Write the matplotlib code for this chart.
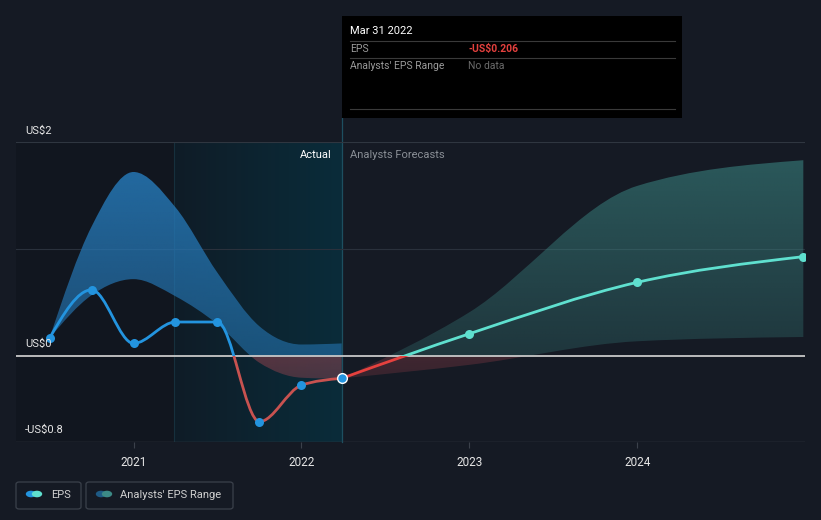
import numpy as np
import matplotlib.pyplot as plt
from matplotlib.path import Path
from matplotlib.patches import PathPatch, Rectangle, FancyBboxPatch, Circle
from matplotlib.lines import Line2D

plt.rcParams['font.family'] = ['Roboto', 'DejaVu Sans']

# data (years as decimals)
past_x = [2020.5, 2020.75, 2021.0, 2021.25, 2021.5, 2021.75, 2022.0, 2022.24]
past_eps = [0.17, 0.62, 0.12, 0.32, 0.32, -0.61, -0.27, -0.206]
past_hi = [0.17, 1.21, 1.72, 1.39, 0.78, 0.28, 0.11, 0.12]
past_lo = [0.17, 0.57, 0.72, 0.56, 0.30, -0.06, -0.20, -0.21]

fc_x = [2022.24, 2023.0, 2024.0, 2024.99]
fc_eps = [-0.206, 0.21, 0.69, 0.93]
fc_hi = [-0.206, 0.41, 1.59, 1.83]
fc_lo = [-0.206, -0.08, 0.14, 0.18]

years = [2021, 2022, 2023, 2024]
y_labels = {2.0: "US$2", 0.0: "US$0", -0.8: "-US$0.8"}

BG = '#151a24'
BLUE = '#2394df'
TEAL = '#5fe0cf'
RED_PAST = '#c85250'
RED_FC = '#e5413e'
W, H = 821, 520


def fx(px):
    return px / W


def fy(py):
    return 1 - py / H


def tangents(xs, ys):
    xs, ys = np.asarray(xs, float), np.asarray(ys, float)
    h = np.diff(xs)
    s = np.diff(ys) / h
    n = len(xs)
    t = np.zeros(n)
    for i in range(1, n - 1):
        h0, h1, s0, s1 = h[i - 1], h[i], s[i - 1], s[i]
        p = (s0 * h1 + s1 * h0) / (h0 + h1)
        t[i] = (np.sign(s0) + np.sign(s1)) * min(abs(s0), abs(s1), 0.5 * abs(p))
    t[0] = (3 * s[0] - t[1]) / 2 if n > 2 else s[0]
    t[-1] = (3 * s[-1] - t[-2]) / 2 if n > 2 else s[-1]
    return t


# smooth monotone curve through the points, drawn as bezier segments
def curve(xs, ys):
    t = tangents(xs, ys)
    verts = [(xs[0], ys[0])]
    codes = [Path.MOVETO]
    for i in range(len(xs) - 1):
        dx = (xs[i + 1] - xs[i]) / 3
        verts += [(xs[i] + dx, ys[i] + dx * t[i]),
                  (xs[i + 1] - dx, ys[i + 1] - dx * t[i + 1]),
                  (xs[i + 1], ys[i + 1])]
        codes += [Path.CURVE4] * 3
    return verts, codes


def band(xs, hi, lo):
    uv, uc = curve(xs, hi)
    lv, lc = curve(xs, lo)
    verts = uv + lv[::-1] + [uv[0]]
    codes = uc + [Path.LINETO] + [Path.CURVE4] * (len(lv) - 1) + [Path.CLOSEPOLY]
    return Path(verts, codes)


def gradient(ax, x0, x1, y0, y1, color, a_top, a_bot, clip):
    rgb = np.array([int(color[i:i + 2], 16) / 255 for i in (1, 3, 5)])
    img = np.zeros((100, 2, 4))
    img[..., :3] = rgb
    img[..., 3] = np.linspace(a_top, a_bot, 100)[:, None]
    im = ax.imshow(img, extent=[x0, x1, y0, y1], aspect='auto',
                   interpolation='bilinear', zorder=3, origin='upper')
    im.set_clip_path(clip)


fig = plt.figure(figsize=(W / 100, H / 100), dpi=100, facecolor=BG)
ax = fig.add_axes([fx(16), 1 - 442 / H, (805 - 16) / W, 300 / H])
ax.set_facecolor(BG)
ax.set_xlim(2020.3, 2025.0)
ax.set_ylim(-0.8, 2.0)
for sp in ax.spines.values():
    sp.set_visible(False)

# past / actual shading
ax.axvspan(2020.3, 2021.24, color='#11161f', zorder=0, lw=0)
hl = np.zeros((2, 100, 4))
c0 = np.array([0x0f, 0x1c, 0x27]) / 255
c1 = np.array([0x0a, 0x2c, 0x3a]) / 255
hl[..., :3] = c0 + (c1 - c0) * np.linspace(0, 1, 100)[:, None]
hl[..., 3] = 1
ax.imshow(hl, extent=[2021.24, 2022.24, -0.8, 2.0], aspect='auto',
          interpolation='bilinear', zorder=0.5)
ax.axvline(2021.24, color='#16303d', lw=0.8, zorder=0.6)
ax.plot([2022.24, 2022.24], [-0.8, 2.22], color='#1d4f60', lw=0.9,
        zorder=0.6, clip_on=False)

# grid
ax.axhline(1.0, color='#2a313c', lw=0.8, zorder=1)
ax.axhline(2.0, color='#2f3640', lw=0.8, zorder=1)
ax.axhline(-0.8, color='#3b414b', lw=1.0, zorder=1)

# analyst ranges
pb = PathPatch(band(past_x, past_hi, past_lo), transform=ax.transData)
gradient(ax, 2020.5, 2022.24, 0, 1.75, '#2679b8', 0.85, 0.55, pb)
gradient(ax, 2020.5, 2022.24, -0.8, 0, '#d9535e', 0.36, 0.12, pb)
fb = PathPatch(band(fc_x, fc_hi, fc_lo), transform=ax.transData)
gradient(ax, 2022.24, 2025.0, 0, 1.83, '#3d8c88', 0.55, 0.25, fb)
gradient(ax, 2022.24, 2025.0, -0.8, 0, '#d9535e', 0.22, 0.06, fb)

ax.axhline(0.0, color='#c8c8c8', lw=1.3, zorder=4)


def line(xs, ys, up, down):
    v, c = curve(xs, ys)
    for col, (ya, yb) in ((up, (0, 5)), (down, (-5, 0))):
        p = PathPatch(Path(v, c), fill=False, edgecolor=col, lw=2.0,
                      zorder=5, transform=ax.transData)
        ax.add_patch(p)
        p.set_clip_path(Rectangle((2019, ya), 10, yb - ya,
                                  transform=ax.transData))


line(past_x, past_eps, BLUE, RED_PAST)
line(fc_x, fc_eps, TEAL, RED_FC)

ax.plot(past_x[:-1], past_eps[:-1], 'o', color=BLUE, ms=6.5, mew=0, zorder=6)
ax.plot(past_x[-1:], past_eps[-1:], 'o', color=BLUE, ms=7, mec='white',
        mew=1.0, zorder=6)
ax.plot(fc_x[1:], fc_eps[1:], 'o', color=TEAL, ms=6.5, mew=0, zorder=6)

# axes labels
ax.set_xticks(years)
ax.set_xticklabels([str(y) for y in years])
ax.tick_params(axis='x', colors='#3b414b', length=4, width=0.8, pad=6,
               labelcolor='#e6e6e6', labelsize=8.5)
ax.set_yticks([])
for val, txt in y_labels.items():
    off = 4 if val == 2.0 else 5
    ax.annotate(txt, xy=(9 / 789, val), xycoords=ax.get_yaxis_transform(),
                xytext=(0, off), textcoords='offset points', color='#e6e6e6',
                fontsize=8, va='bottom', ha='left', zorder=7)

ax.annotate("Actual", xy=(2022.24, 2.0), xytext=(-7, -9),
            textcoords='offset points', color='white', fontsize=8,
            ha='right', va='center')
ax.annotate("Analysts Forecasts", xy=(2022.24, 2.0), xytext=(6, -9),
            textcoords='offset points', color='#8a8f96', fontsize=8,
            ha='left', va='center')

# tooltip
fig.patches.append(Rectangle((fx(342), fy(118)), fx(682) - fx(342),
                             fy(16) - fy(118), transform=fig.transFigure,
                             facecolor='black', edgecolor='none', zorder=10))
for py in (41, 58, 109):
    fig.lines.append(Line2D([fx(350), fx(675)], [fy(py), fy(py)],
                            transform=fig.transFigure, color='#3a3a3a',
                            lw=0.8, zorder=11))
fig.text(fx(350), fy(31), "Mar 31 2022", color='white', fontsize=8,
         va='center', zorder=12)
fig.text(fx(350), fy(49), "EPS", color='#9a9a9a', fontsize=7.5,
         va='center', zorder=12)
fig.text(fx(468), fy(49), "-US$0.206", color='#e5413e', fontsize=7.5,
         va='center', zorder=12, fontweight='bold')
fig.text(fx(350), fy(66), "Analysts' EPS Range", color='#9a9a9a',
         fontsize=7.5, va='center', zorder=12)
fig.text(fx(468), fy(66), "No data", color='#6a6a6a', fontsize=7.5,
         va='center', zorder=12)

# legend
for x0, x1, c_a, c_b, label, tx in ((16, 81, BLUE, TEAL, "EPS", 51),
                                    (86, 233, '#1e5a85', '#3c8a86',
                                     "Analysts' EPS Range", 120)):
    fig.patches.append(FancyBboxPatch((fx(x0), fy(509)), fx(x1) - fx(x0),
                                      fy(482) - fy(509),
                                      boxstyle='round,pad=0,rounding_size=0.004',
                                      transform=fig.transFigure,
                                      facecolor='none', edgecolor='#3b414b',
                                      lw=0.9))
    for cx, col in ((x0 + 15, c_a), (x0 + 21, c_b)):
        fig.patches.append(Circle((fx(cx), fy(494)), 5.2 / W,
                                  transform=fig.transFigure, facecolor=col,
                                  edgecolor='none'))
    fig.text(fx(tx), fy(495), label, color='#d0d0d0', fontsize=8,
             va='center', ha='left')

fig.savefig('out.png', dpi=100, facecolor=BG)
